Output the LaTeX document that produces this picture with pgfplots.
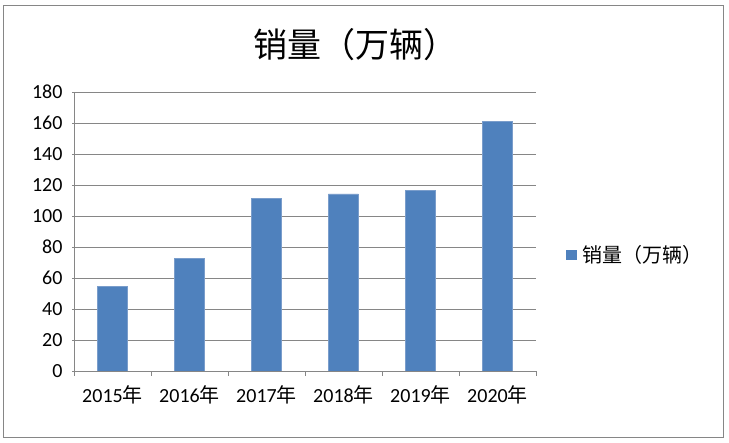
\documentclass[border=0pt]{standalone}
\usepackage{fontspec}
\setmainfont{Carlito}
\newfontfamily\cjk{Noto Sans CJK SC}
\usepackage{pgfplots}
\pgfplotsset{compat=1.18}
\definecolor{barblue}{HTML}{4F81BD}
\definecolor{baredge}{HTML}{7A9DCB}
\definecolor{axgray}{HTML}{868686}
\begin{document}
\begin{tikzpicture}
\path[use as bounding box] (0pt,0pt) rectangle (729pt,443pt);
\draw[axgray, line width=1.5pt] (3.7pt,5.7pt) rectangle (723.7pt,437.6pt);
\node[font=\cjk\fontsize{34}{38}\selectfont, anchor=center] at (355pt,398pt) {销量（万辆）};
\begin{axis}[
  at={(74pt,72pt)}, anchor=south west,
  scale only axis, width=462pt, height=279pt,
  ymin=0, ymax=180, ytick={0,20,...,180},
  xmin=-0.5, xmax=5.5,
  xtick={0,...,5},
  xticklabels={2015{\cjk 年},2016{\cjk 年},2017{\cjk 年},2018{\cjk 年},2019{\cjk 年},2020{\cjk 年}},
  major x tick style={draw=none},
  minor xtick={-0.5,0.5,...,5.5},
  minor tick length=5pt,
  major tick length=4pt,
  tick align=outside,
  tick style={axgray, line width=0.8pt},
  axis x line=bottom, axis y line=left,
  axis line style={axgray, line width=0.8pt, -},
  ymajorgrids, grid style={axgray, line width=0.8pt},
  ticklabel style={font=\fontsize{20}{23}\selectfont, text=black},
  xticklabel style={yshift=-7pt},
  yticklabel style={xshift=-6pt},
  /pgf/number format/assume math mode=true,
  ybar, bar width=30pt,
  legend style={at={(1.065,0.416)}, anchor=west, draw=none, fill=none,
    font=\cjk\fontsize{20}{23}\selectfont, inner sep=0pt,
    nodes={inner sep=0pt}},
  legend image code/.code={\fill[barblue] (0pt,-4.5pt) rectangle (9.5pt,5pt);},
  legend style={/tikz/every even column/.append style={column sep=0pt}},
]
\addplot[fill=barblue, draw=baredge, line width=0.6pt] coordinates {(0,54.5) (1,72.5) (2,111.2) (3,114.2) (4,116.6) (5,161.1)};
\addlegendentry{\hspace{6pt}销量（万辆）}
\end{axis}
\end{tikzpicture}
\end{document}
